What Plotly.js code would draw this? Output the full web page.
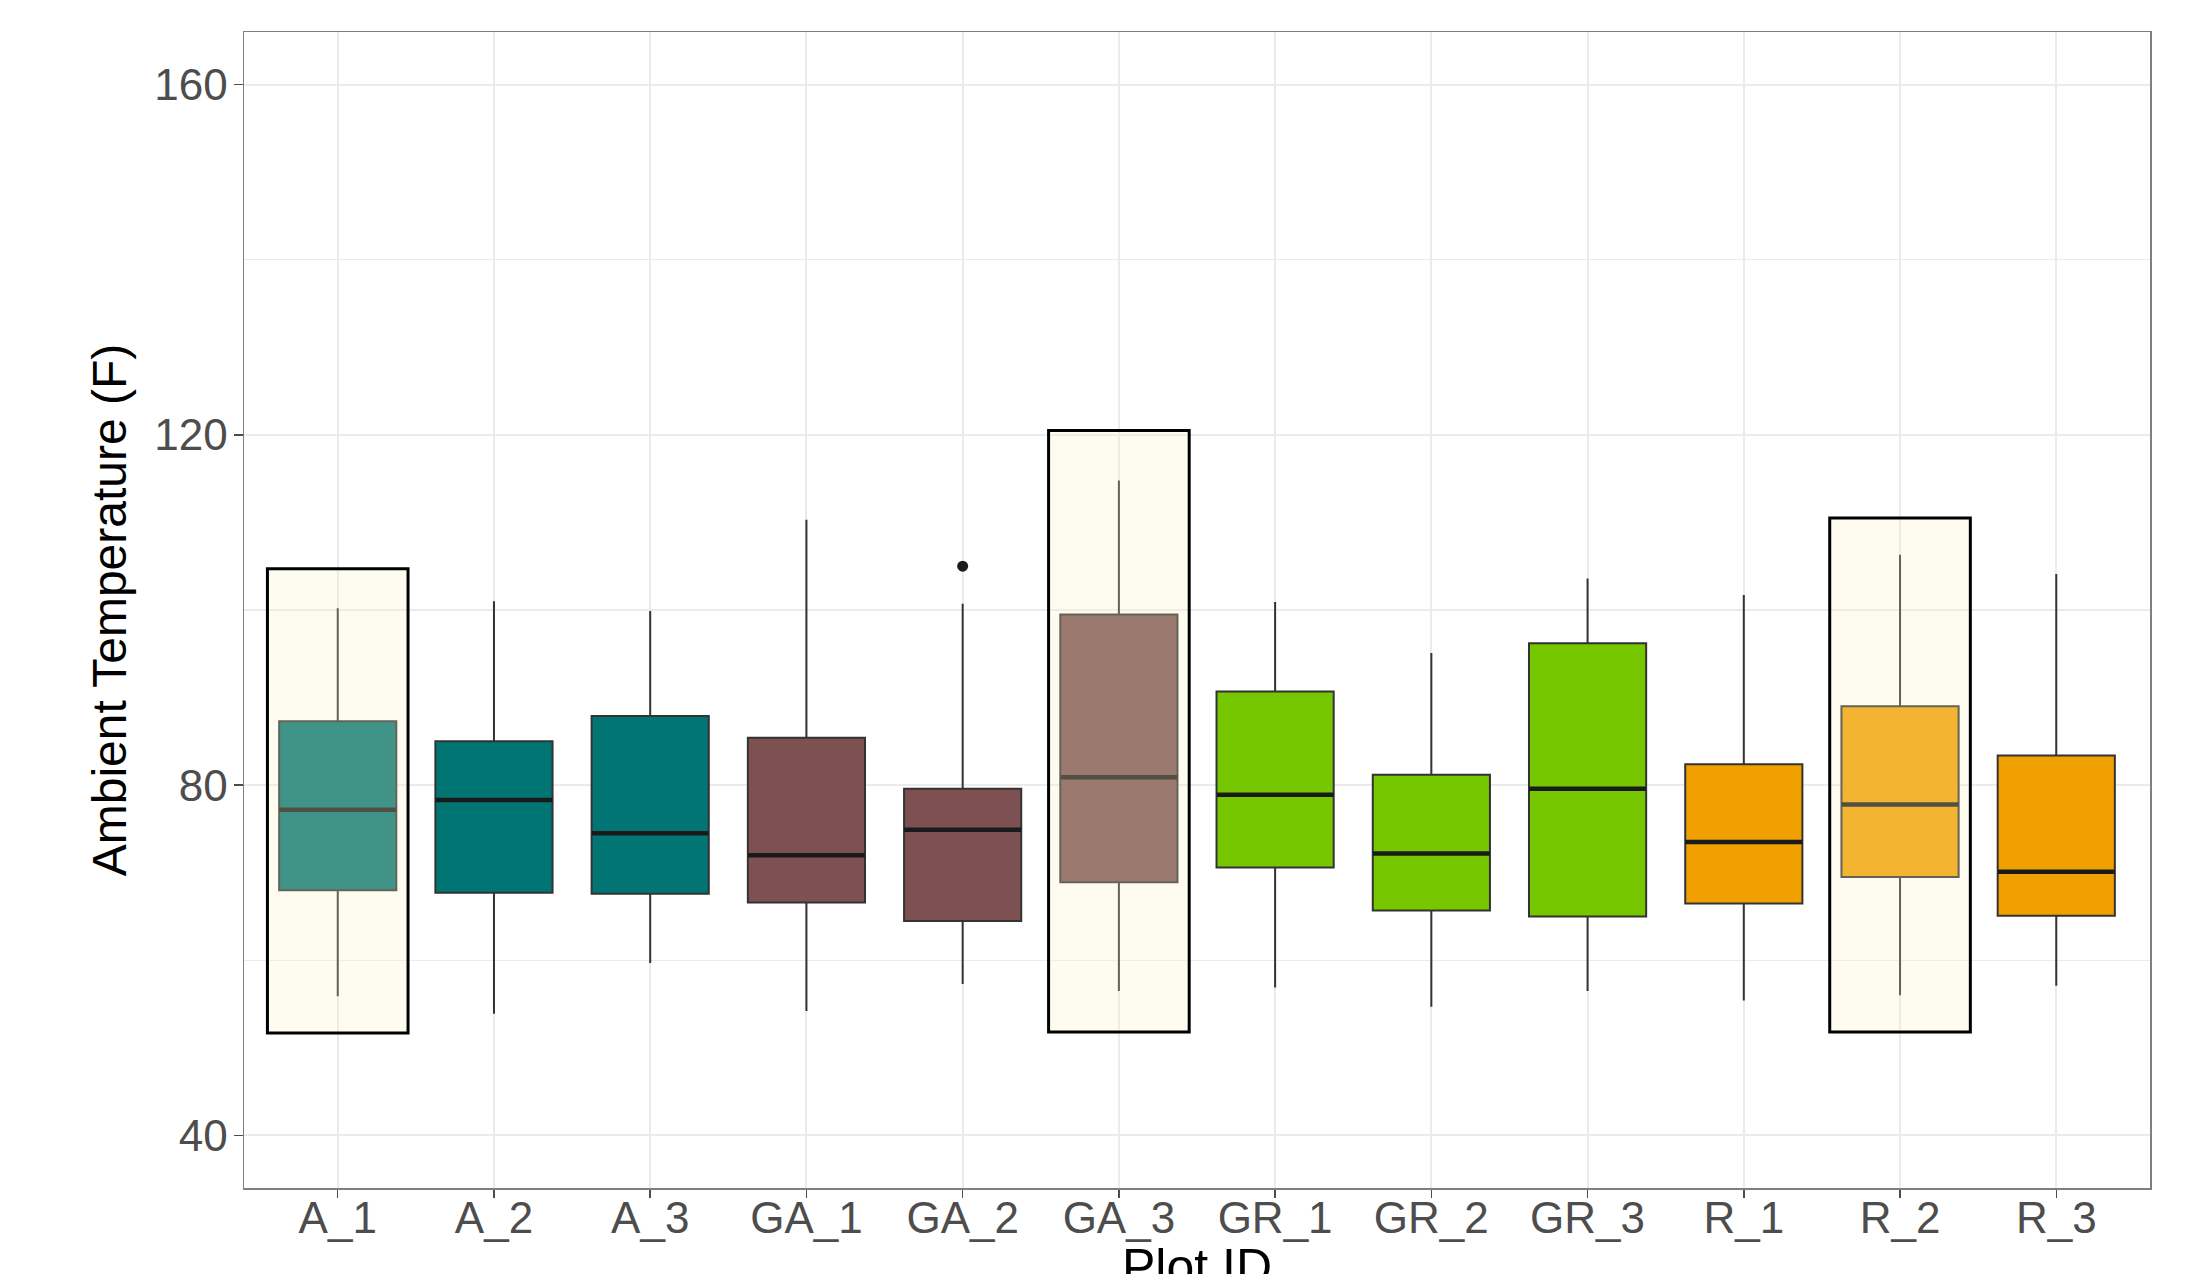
<!DOCTYPE html>
<html>
<head>
<meta charset="utf-8">
<script src="https://cdn.plot.ly/plotly-3.0.1.min.js"></script>
<style>html,body{margin:0;padding:0;background:#fff;}#chart{width:2203px;height:1274px;}</style>
</head>
<body>
<div id="chart"></div>
<script>
// ---- data ----
const categories   = ['A_1','A_2','A_3','GA_1','GA_2','GA_3','GR_1','GR_2','GR_3','R_1','R_2','R_3'];
const groupOf      = ['A','A','A','GA','GA','GA','GR','GR','GR','R','R','R'];
const lowerWhisker = [55.9, 53.9, 59.7, 54.2, 57.3, 56.5, 56.9, 54.7, 56.5, 55.4, 56.0, 57.1];
const q1           = [68.0, 67.7, 67.6, 66.6, 64.5, 68.9, 70.6, 65.7, 65.0, 66.5, 69.5, 65.1];
const medians      = [77.2, 78.3, 74.5, 72.0, 74.9, 80.9, 78.9, 72.2, 79.6, 73.5, 77.8, 70.1];
const q3           = [87.3, 85.0, 87.9, 85.4, 79.6, 99.5, 90.7, 81.2, 96.2, 82.4, 89.0, 83.4];
const upperWhisker = [100.2, 101.0, 99.9, 110.3, 100.7, 114.8, 100.9, 95.1, 103.6, 101.7, 106.3, 104.1];

const groupNames   = ['A','GA','GR','R'];
const groupColors  = ['#007573','#7D5052','#76C600','#F0A000'];

const outlierIDs    = ['GA_2'];
const outlierValues = [105.0];

const highlightIDs  = ['A_1','GA_3','R_2'];
const highlightLow  = [51.7, 51.8, 51.8];
const highlightHigh = [104.7, 120.5, 110.5];

const yTicks = [40, 80, 120, 160];
const xTitle = 'Plot ID';
const yTitle = 'Ambient Temperature (F)';

// ---- build traces ----
const traces = [];
groupNames.forEach((g, gi) => {
  const idx = categories.map((c, i) => i).filter(i => groupOf[i] === g);
  traces.push({
    type: 'box',
    orientation: 'v',
    x: idx.map(i => categories[i]),
    q1: idx.map(i => q1[i]),
    median: idx.map(i => medians[i]),
    q3: idx.map(i => q3[i]),
    lowerfence: idx.map(i => lowerWhisker[i]),
    upperfence: idx.map(i => upperWhisker[i]),
    width: 0.75,
    whiskerwidth: 0,
    boxpoints: false,
    fillcolor: groupColors[gi],
    line: {color: '#333333', width: 2},
    showlegend: false,
    hoverinfo: 'y'
  });
});
// thicker median lines (ggplot fatten); line-ew spans 1.4*size px
traces.push({
  type: 'scatter', mode: 'markers',
  x: categories, y: medians,
  marker: {symbol: 'line-ew', size: 83.5, line: {color: '#1A1A1A', width: 4.5}},
  showlegend: false, hoverinfo: 'skip'
});
// outliers
traces.push({
  type: 'scatter', mode: 'markers',
  x: outlierIDs, y: outlierValues,
  marker: {color: '#1A1A1A', size: 11},
  showlegend: false
});

// highlight rectangles (semi-transparent, drawn above boxes)
const shapes = highlightIDs.map((id, k) => {
  const pos = categories.indexOf(id);
  return {
    type: 'rect', layer: 'above', xref: 'x', yref: 'y',
    x0: pos - 0.45, x1: pos + 0.45,
    y0: highlightLow[k], y1: highlightHigh[k],
    fillcolor: 'rgba(251,243,195,0.25)',
    line: {color: '#000000', width: 3}
  };
});

const tickFont = {family: 'Liberation Sans, Arial, sans-serif', size: 44, color: '#4D4D4D'};

const layout = {
  width: 2203, height: 1274,
  margin: {l: 244, r: 53, t: 32, b: 86, pad: 0},
  paper_bgcolor: '#ffffff', plot_bgcolor: '#ffffff',
  showlegend: false,
  boxmode: 'overlay',
  xaxis: {
    type: 'category',
    categoryorder: 'array', categoryarray: categories,
    range: [-0.6, 11.6],
    showgrid: true, gridcolor: '#EBEBEB', gridwidth: 2,
    ticks: 'outside', ticklen: 8, tickwidth: 1.5, tickcolor: '#4D4D4D',
    tickfont: tickFont, ticklabelstandoff: -17,
    showline: true, linecolor: '#7F7F7F', linewidth: 1.5, mirror: true,
    zeroline: false, automargin: false, fixedrange: true
  },
  yaxis: {
    range: [34, 166],
    tickmode: 'array', tickvals: yTicks, ticktext: yTicks.map(String),
    showgrid: true, gridcolor: '#EBEBEB', gridwidth: 2,
    minor: {showgrid: true, gridcolor: '#EBEBEB', gridwidth: 1.2, tickmode: 'array', tickvals: [60, 100, 140], ticks: ''},
    ticks: 'outside', ticklen: 9, tickwidth: 1.5, tickcolor: '#4D4D4D',
    tickfont: tickFont, ticklabelstandoff: -3,
    showline: true, linecolor: '#7F7F7F', linewidth: 1.5, mirror: true,
    zeroline: false, automargin: false, fixedrange: true,
    title: {text: yTitle, font: {family: 'Liberation Sans, Arial, sans-serif', size: 48, color: '#000000'}, standoff: 12}
  },
  annotations: [{
    text: xTitle, xref: 'paper', yref: 'paper', x: 0.5, y: -0.042,
    xanchor: 'center', yanchor: 'top', showarrow: false,
    font: {family: 'Liberation Sans, Arial, sans-serif', size: 50, color: '#000000'}
  }],
  shapes: shapes
};

Plotly.newPlot('chart', traces, layout, {displayModeBar: false, staticPlot: true});
</script>
</body>
</html>
